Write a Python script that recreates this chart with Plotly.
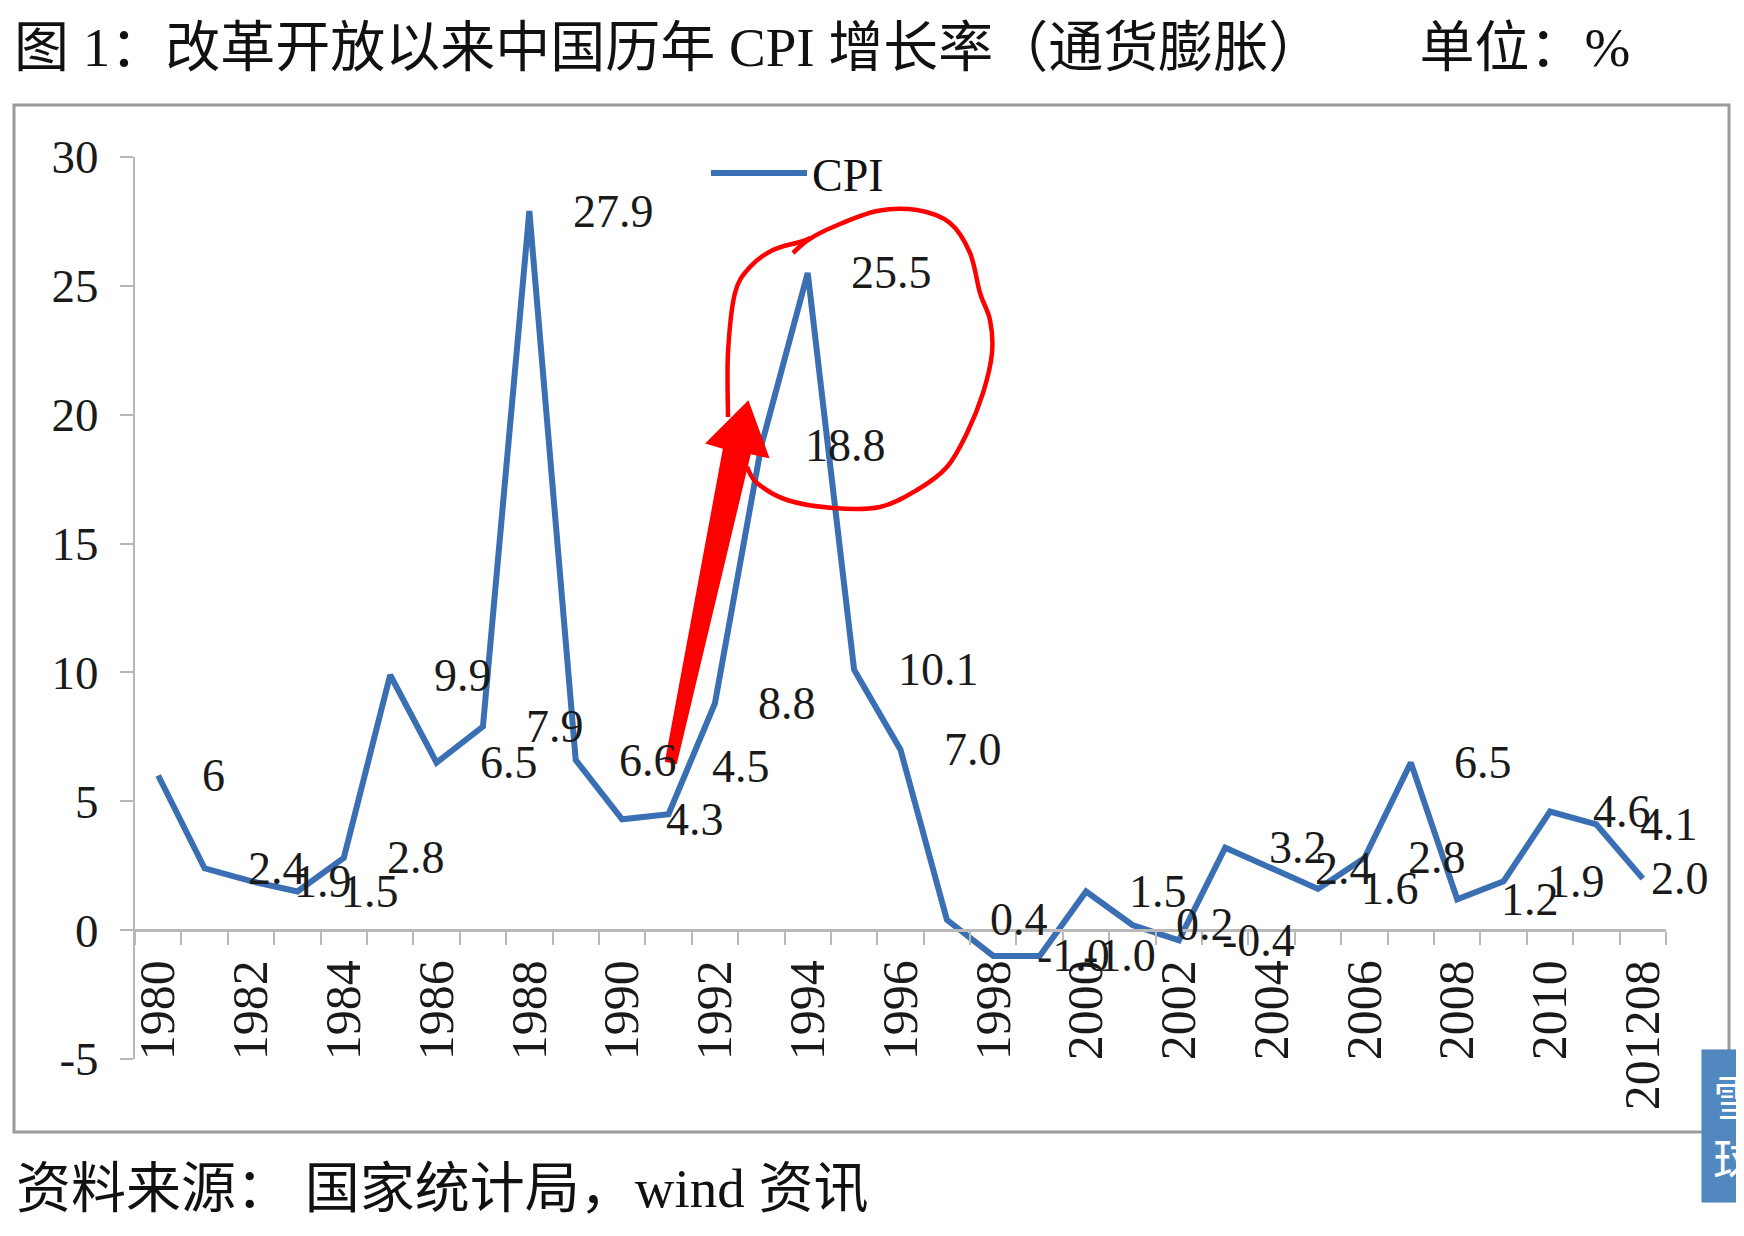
import plotly.graph_objects as go

# ---------------- data ----------------
categories = ["1980", "1981", "1982", "1983", "1984", "1985", "1986", "1987", "1988", "1989",
              "1990", "1991", "1992", "1993", "1994", "1995", "1996", "1997", "1998", "1999",
              "2000", "2001", "2002", "2003", "2004", "2005", "2006", "2007", "2008", "2009",
              "2010", "2011", "201208"]
cpi_values = [6.0, 2.4, 1.9, 1.5, 2.8, 9.9, 6.5, 7.9, 27.9, 6.6,
              4.3, 4.5, 8.8, 18.8, 25.5, 10.1, 7.0, 0.4, -1.0, -1.0,
              1.5, 0.2, -0.4, 3.2, 2.4, 1.6, 2.8, 6.5, 1.2, 1.9,
              4.6, 4.1, 2.0]
value_labels = ["6", "2.4", "1.9", "1.5", "2.8", "9.9", "6.5", "7.9", "27.9", "6.6",
                "4.3", "4.5", "8.8", "18.8", "25.5", "10.1", "7.0", "0.4", "-1.0", "-1.0",
                "1.5", "0.2", "-0.4", "3.2", "2.4", "1.6", "2.8", "6.5", "1.2", "1.9",
                "4.6", "4.1", "2.0"]
x_tick_labels = categories[::2]
y_tick_values = [-5, 0, 5, 10, 15, 20, 25, 30]
y_tick_labels = ["-5", "0", "5", "10", "15", "20", "25", "30"]
series_name = "CPI"
title_text = ("图 1：改革开放以来中国历年 CPI 增长率（通货膨胀）"
              "\u00a0\u00a0\u00a0\u00a0\u00a0\u00a0\u00a0单位：%")
source_text = "资料来源：\u00a0国家统计局，wind 资讯"

# ---------------- layout constants ----------------
PAGE_OFF = 8                      # default body margin of the html page
FIG_W, FIG_H = 1744 - 2 * PAGE_OFF, 1236 - 2 * PAGE_OFF
PLOT_X0, PLOT_Y0 = 135, 157       # plot area top-left on screen
PW, PH = 1531, 902
M_L, M_T = PLOT_X0 - PAGE_OFF, PLOT_Y0 - PAGE_OFF
M_R = FIG_W - M_L - PW
M_B = FIG_H - M_T - PH
SERIF = "Liberation Serif, Times New Roman, serif"
MIXED = "Liberation Serif, Noto Sans CJK SC, sans-serif"
CJK = "Noto Sans CJK SC, sans-serif"
LINE_COLOR = "#3a6fb3"
AXIS_COLOR = "#b8b8b8"
# vertical nudge (px) of individual data labels, as placed in the source chart
LABEL_YSHIFT = {"1991": 48}


def px(X):
    """screen x pixel -> paper x"""
    return (X - PLOT_X0) / PW


def py(Y):
    """screen y pixel -> paper y"""
    return (PLOT_Y0 + PH - Y) / PH


def smooth_path(points):
    """Catmull-Rom through screen points -> SVG path in paper coords."""
    pts = points
    d = "M %.5f,%.5f" % (px(pts[0][0]), py(pts[0][1]))
    for i in range(len(pts) - 1):
        p0 = pts[i - 1] if i > 0 else pts[i]
        p1 = pts[i]
        p2 = pts[i + 1]
        p3 = pts[i + 2] if i + 2 < len(pts) else pts[i + 1]
        c1 = (p1[0] + (p2[0] - p0[0]) / 6, p1[1] + (p2[1] - p0[1]) / 6)
        c2 = (p2[0] - (p3[0] - p1[0]) / 6, p2[1] - (p3[1] - p1[1]) / 6)
        d += " C %.5f,%.5f %.5f,%.5f %.5f,%.5f" % (px(c1[0]), py(c1[1]), px(c2[0]), py(c2[1]),
                                                  px(p2[0]), py(p2[1]))
    return d


def poly_path(points):
    return "M " + " L ".join("%.5f,%.5f" % (px(a), py(b)) for a, b in points) + " Z"


xpos = list(range(len(categories)))
n = len(categories)

fig = go.Figure()
fig.add_trace(go.Scatter(
    x=xpos, y=cpi_values, mode="lines", name=series_name,
    line=dict(color=LINE_COLOR, width=6),
    cliponaxis=False,
))

annotations = []
for i, (cat, v, lab) in enumerate(zip(categories, cpi_values, value_labels)):
    xl = i + 1 if i < n - 1 else i + 0.25
    annotations.append(dict(
        x=xl, y=v, xref="x", yref="y", text=lab, showarrow=False,
        xanchor="left", yanchor="middle", xshift=-5, yshift=LABEL_YSHIFT.get(cat, 0),
        font=dict(family=SERIF, size=46, color="#1a1a1a"),
    ))

# source line
annotations.append(dict(
    x=px(14), y=py(1188), xref="paper", yref="paper", text=source_text, showarrow=False,
    xanchor="left", yanchor="middle", font=dict(family=MIXED, size=55, color="#111111"),
))
# watermark
annotations.append(dict(
    x=px(1711), y=py(1126), xref="paper", yref="paper", text="雪<br>球", showarrow=False,
    xanchor="left", yanchor="middle", font=dict(family=CJK, size=48, color="#ffffff"),
))

circle_main = [(793, 253), (808, 240), (833, 227), (877, 211), (917, 210), (950, 223),
               (970, 253), (980, 293), (990, 320), (992, 353), (983, 393), (967, 433),
               (947, 467), (917, 490), (880, 507), (833, 508), (787, 500), (757, 483),
               (747, 467)]
circle_left = [(728, 417), (728, 353), (735, 293), (750, 267), (773, 250), (800, 242),
               (810, 238)]
arrow_poly = [(666, 761), (724, 448), (707, 443), (748, 402), (768, 457), (750, 453),
              (676, 763)]

shapes = [
    # outer frame
    dict(type="rect", xref="paper", yref="paper", x0=px(14), x1=px(1729), y0=py(1132), y1=py(105),
         line=dict(color="#9a9a9a", width=3), fillcolor="rgba(0,0,0,0)", layer="below"),
    # hand-drawn red marks
    dict(type="path", xref="paper", yref="paper", path=smooth_path(circle_main),
         line=dict(color="#ff0000", width=4.5)),
    dict(type="path", xref="paper", yref="paper", path=smooth_path(circle_left),
         line=dict(color="#ff0000", width=4.5)),
    dict(type="path", xref="paper", yref="paper", path=poly_path(arrow_poly),
         line=dict(color="#ff0000", width=2), fillcolor="#ff0000"),
    # watermark box
    dict(type="rect", xref="paper", yref="paper", x0=px(1702), x1=px(1760), y0=py(1202), y1=py(1050),
         line=dict(color="#4a7fb6", width=1), fillcolor="#5288c0"),
]

fig.update_layout(
    width=FIG_W, height=FIG_H,
    margin=dict(l=M_L, r=M_R, t=M_T, b=M_B, autoexpand=False),
    paper_bgcolor="#ffffff", plot_bgcolor="#ffffff",
    title=dict(text=title_text, x=(14 - PAGE_OFF) / FIG_W, xanchor="left", xref="container",
               y=1 - (47 - PAGE_OFF) / FIG_H, yanchor="middle", yref="container",
               font=dict(family=MIXED, size=55, color="#111111")),
    xaxis=dict(
        range=[-0.5, n - 0.5], anchor="free", position=5 / 35,
        showline=True, linecolor=AXIS_COLOR, linewidth=3,
        showgrid=False, zeroline=False,
        tickmode="array", tickvals=xpos[::2], ticktext=x_tick_labels,
        ticks="", tickangle=-90, ticklabelstandoff=8,
        tickfont=dict(family=SERIF, size=50, color="#1a1a1a"),
        minor=dict(tickmode="array", tickvals=[i - 0.5 for i in range(n + 1)],
                   ticks="outside", ticklen=13, tickwidth=2, tickcolor=AXIS_COLOR,
                   showgrid=False),
    ),
    yaxis=dict(
        range=[-5, 30], showline=True, linecolor=AXIS_COLOR, linewidth=2,
        showgrid=False, zeroline=False,
        tickmode="array", tickvals=y_tick_values, ticktext=y_tick_labels,
        ticks="outside", ticklen=13, tickwidth=2, tickcolor=AXIS_COLOR,
        ticklabelstandoff=12,
        tickfont=dict(family=SERIF, size=47, color="#1a1a1a"),
    ),
    showlegend=True,
    legend=dict(x=px(706), y=py(173), xanchor="left", yanchor="middle",
                bgcolor="rgba(0,0,0,0)", itemwidth=96,
                font=dict(family=SERIF, size=46, color="#111111")),
    annotations=annotations,
    shapes=shapes,
)

fig.write_html("out.html")
